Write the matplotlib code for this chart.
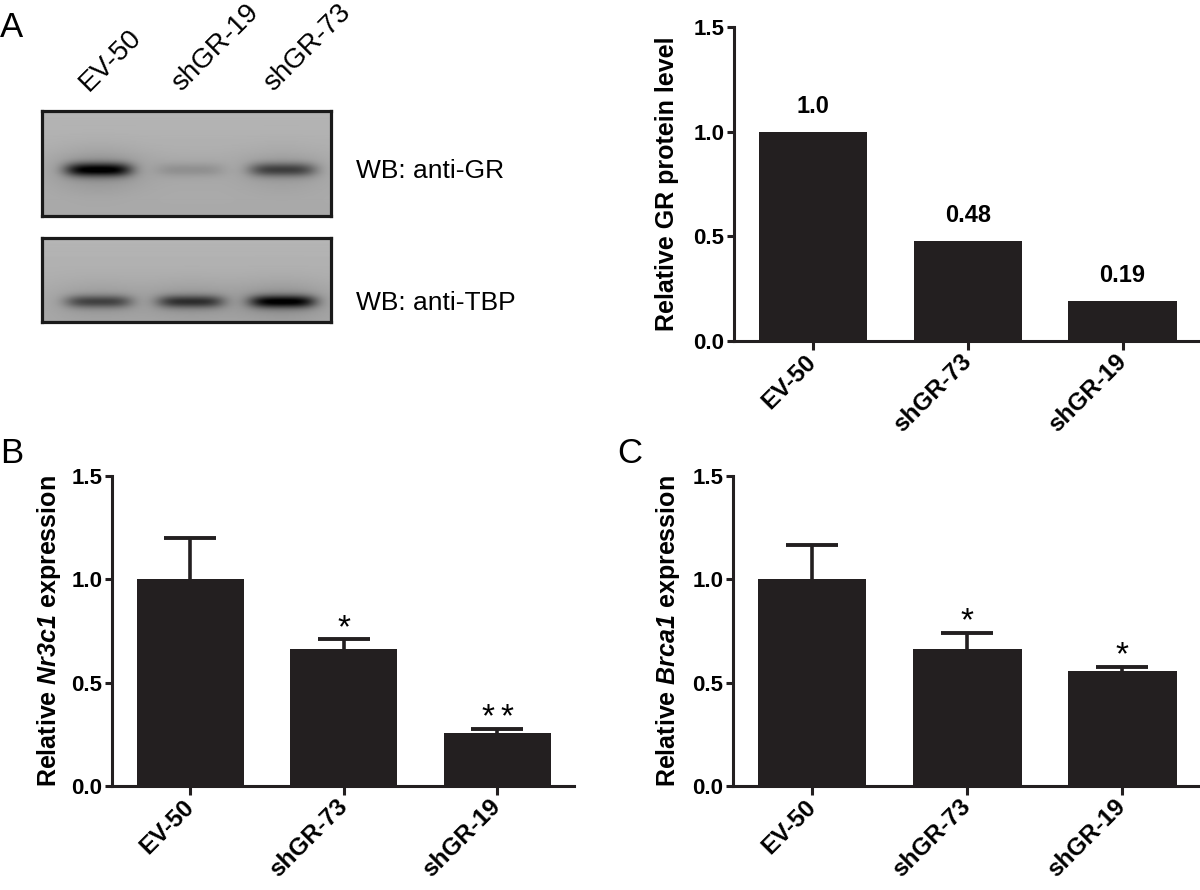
import numpy as np
import matplotlib.pyplot as plt

plt.rcParams['font.family'] = 'Liberation Sans'
plt.rcParams['mathtext.fontset'] = 'custom'
plt.rcParams['mathtext.rm'] = 'Liberation Sans:italic:bold'
plt.rcParams['mathtext.it'] = 'Liberation Sans:italic:bold'
plt.rcParams['mathtext.bf'] = 'Liberation Sans:bold'

# western blot: lanes and relative band darkness
blot_lanes = ['EV-50', 'shGR-19', 'shGR-73']
gr_band = [0.95, 0.15, 0.58]
tbp_band = [0.55, 0.65, 0.92]

# bar charts
groups = ['EV-50', 'shGR-73', 'shGR-19']
gr_protein = [1.0, 0.48, 0.19]
gr_protein_txt = ['1.0', '0.48', '0.19']

nr3c1_mean = [1.0, 0.665, 0.255]
nr3c1_err = [0.20, 0.045, 0.02]
nr3c1_sig = ['', '*', '**']

brca1_mean = [1.0, 0.665, 0.555]
brca1_err = [0.165, 0.075, 0.022]
brca1_sig = ['', '*', '*']

BAR = '#231f20'
W, H = 1200, 890
fig = plt.figure(figsize=(12, 8.9), dpi=100)


def box(l, t, r, b):
    return [l / W, 1 - b / H, (r - l) / W, (b - t) / H]


#%%
# blots
def blot(rect, bands, yc, sig):
    ax = fig.add_axes(rect)
    n = len(bands)
    xs = np.linspace(-0.61, n - 0.47, 290)
    ys = np.linspace(0, 1, 110)
    X, Y = np.meshgrid(xs, ys)
    img = 0.71 - 0.05 * Y
    for i, b in enumerate(bands):
        px_ = np.exp(-np.abs((X - i) / 0.36) ** 4)
        py_ = np.exp(-((Y - yc) / sig) ** 2)
        img = img - 0.64 * b * px_ * py_
        halo = np.exp(-((X - i) / 0.5) ** 2) * np.exp(-((Y - yc) / (3 * sig)) ** 2)
        img = img - 0.12 * b * halo
    img = np.clip(img, 0, 1)
    ax.imshow(img, cmap='gray', vmin=0, vmax=1, aspect='auto',
              extent=(-0.61, n - 0.47, 1, 0), interpolation='bilinear')
    ax.set_xticks([])
    ax.set_yticks([])
    for s in ax.spines.values():
        s.set_linewidth(2.3)
        s.set_color('#1a1a1a')
    return ax


ax_gr = blot(box(42, 111, 331, 216), gr_band, 0.56, 0.065)
ax_tbp = blot(box(42, 238, 331, 322), tbp_band, 0.76, 0.075)

for i, name in enumerate(blot_lanes):
    ax_gr.text(i - 0.1, -0.18, name, rotation=45, rotation_mode='anchor',
               ha='left', va='baseline', fontsize=20)

fig.text(356 / W, 1 - 178 / H, 'WB: anti-GR', fontsize=19, va='baseline')
fig.text(356 / W, 1 - 310 / H, 'WB: anti-TBP', fontsize=19, va='baseline')


#%%
# bar panels
def bar_panel(rect, vals, err, ylabel, lab_x):
    ax = fig.add_axes(rect)
    x = np.arange(len(groups))
    ax.bar(x, vals, 0.7, color=BAR, zorder=2)
    if err is not None:
        eb = ax.errorbar(x, vals, yerr=[np.zeros(len(vals)), err], fmt='none',
                         ecolor=BAR, elinewidth=2.6, capsize=19, capthick=2.8,
                         zorder=1)
        eb[1][0].set_visible(False)  # no lower caps
    ax.set_xlim(-0.51, 2.5)
    ax.set_ylim(0, 1.5)
    ax.set_yticks([0, 0.5, 1.0, 1.5])
    ax.set_yticklabels(['0.0', '0.5', '1.0', '1.5'], fontsize=16, fontweight='bold')
    ax.set_xticks(x)
    ax.set_xticklabels(groups, fontsize=17.5, fontweight='bold')
    plt.setp(ax.get_xticklabels(), rotation=45, ha='right', va='center',
             rotation_mode='anchor')
    for s in ['top', 'right']:
        ax.spines[s].set_visible(False)
    for s in ['left', 'bottom']:
        ax.spines[s].set_linewidth(2.2)
        ax.spines[s].set_color(BAR)
    ax.tick_params(axis='y', length=5, width=2.2, pad=2, color=BAR)
    ax.tick_params(axis='x', length=6.5, width=2.2, pad=6, color=BAR)
    ax.set_ylabel(ylabel, fontsize=18, fontweight='bold', va='center')
    ax.yaxis.set_label_coords(lab_x, 0.5)
    ax.patch.set_alpha(0)
    return ax


ax_a = bar_panel(box(734, 27, 1200, 341), gr_protein, None,
                 'Relative GR protein level', -0.144)
for i, v in enumerate(gr_protein):
    ax_a.text(i, v + 0.09, gr_protein_txt[i], ha='center', va='baseline',
              fontsize=17, fontweight='bold')

ax_b = bar_panel(box(112, 476, 574, 786), nr3c1_mean, nr3c1_err,
                 r'Relative $Nr3c1$ expression', -0.136)
ax_c = bar_panel(box(733, 476, 1200, 786), brca1_mean, brca1_err,
                 r'Relative $Brca1$ expression', -0.139)

# significance stars, one text per star
for ax, m, e, sig in [(ax_b, nr3c1_mean, nr3c1_err, nr3c1_sig),
                      (ax_c, brca1_mean, brca1_err, brca1_sig)]:
    for i in range(len(m)):
        n = len(sig[i])
        for k in range(n):
            ax.text(i + (k - (n - 1) / 2) * 0.125, m[i] + e[i] + 0.012, '*',
                    ha='center', va='baseline', fontsize=24)

# panel letters
fig.text(0.0, 1 - 37 / H, 'A', fontsize=25, va='baseline')
fig.text(0.0, 1 - 463 / H, 'B', fontsize=25, va='baseline')
fig.text(617 / W, 1 - 463 / H, 'C', fontsize=25, va='baseline')

fig.savefig('out.png', dpi=100)
